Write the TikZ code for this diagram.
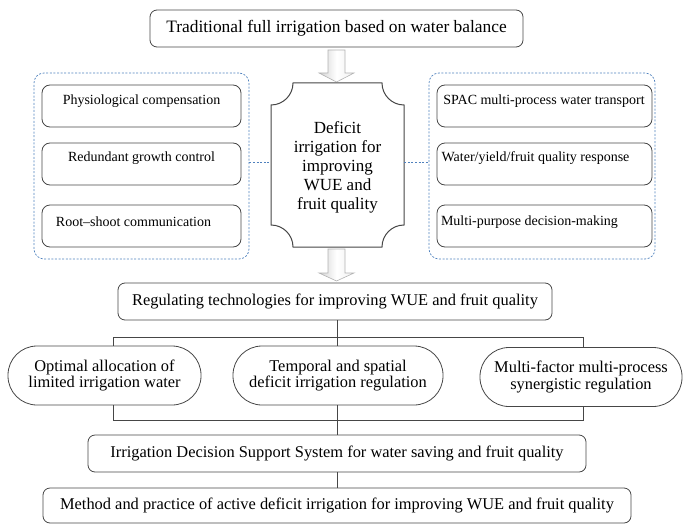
\documentclass[tikz,border=0pt]{standalone}
\usepackage{fontspec}
\setmainfont{Liberation Serif}
\definecolor{edge}{RGB}{70,70,70}
\definecolor{pblue}{RGB}{79,129,189}
\begin{document}
\begin{tikzpicture}[x=1pt,y=-1pt,
  box/.style={draw=edge, line width=0.8pt, rounded corners=7pt, inner sep=0pt,
    font=\fontsize{16.4}{17}\selectfont, align=center},
  inbox/.style={draw=edge, line width=0.8pt, rounded corners=8pt, inner sep=0pt},
  intext/.style={inner sep=0pt, font=\fontsize{14}{16}\selectfont},
  panel/.style={draw=pblue, line width=0.7pt, dash pattern=on 2pt off 1.6pt, rounded corners=10pt, inner sep=0pt},
  oval/.style={draw=edge, line width=0.8pt, rounded corners=29pt, inner sep=0pt,
    font=\fontsize{16.4}{16.8}\selectfont, align=center},
  conn/.style={draw=edge, line width=1pt},
  dconn/.style={draw=pblue, line width=0.7pt, dash pattern=on 2pt off 1.6pt},
  blockarr/.style={draw=gray!60, line width=0.6pt, left color=gray!35, right color=gray!12, middle color=white}
]
\useasboundingbox (0,0) rectangle (684,524);

% top box
\node[box, minimum width=373pt, minimum height=37pt, font=\fontsize{17.4}{18}\selectfont] (top) at (336.5,28.5) {Traditional full irrigation based on water balance};

% arrow 1
\draw[blockarr] (328,50) -- (345,50) -- (345,73) -- (354,73) -- (336.5,82) -- (319,73) -- (328,73) -- cycle;

% left panel
\node[panel, minimum width=215pt, minimum height=186pt] (lpanel) at (141.5,166) {};
\node[inbox, minimum width=199pt, minimum height=42pt] (l1) at (141.5,106) {};
\node[inbox, minimum width=199pt, minimum height=42pt] (l2) at (141.5,164) {};
\node[inbox, minimum width=199pt, minimum height=42pt] (l3) at (141.5,226) {};
\node[intext] (l1t) at (141.5,101) {Physiological compensation};
\node[intext] (l2t) at (141.5,158) {Redundant growth control};
\node[intext] (l3t) at (133.5,222) {Root–shoot communication};

% right panel
\node[panel, minimum width=226pt, minimum height=186pt] (rpanel) at (542,166) {};
\node[inbox, minimum width=215pt, minimum height=42pt] (r1) at (544.5,106) {};
\node[inbox, minimum width=215pt, minimum height=42pt] (r2) at (544.5,164) {};
\node[inbox, minimum width=215pt, minimum height=42pt] (r3) at (544.5,226) {};
\node[intext] (r1t) at (544,101) {SPAC multi-process water transport};
\node[intext] (r2t) at (535.5,158) {Water/yield/fruit quality response};
\node[intext] (r3t) at (529.5,222) {Multi-purpose decision-making};

% center plaque
\draw[draw=edge, line width=1pt, fill=white]
  (293,83) -- (382,83) .. controls (382,95.1) and (391.9,105) .. (404,105)
  -- (404,225) .. controls (391.9,225) and (382,234.9) .. (382,247)
  -- (293,247) .. controls (293,234.9) and (283.1,225) .. (271,225)
  -- (271,105) .. controls (283.1,105) and (293,95.1) .. (293,83) -- cycle;
\node[inner sep=0pt, minimum width=133pt, minimum height=164pt, align=center,
  font=\fontsize{17}{19}\selectfont] (deficit) at (337.5,167) {Deficit\\irrigation for\\improving\\WUE and\\fruit quality};

% dashed links
\draw[dconn] ([yshift=4pt]lpanel.east) -- ([yshift=4pt]lpanel.east -| deficit.west);
\draw[dconn] ([yshift=4pt]rpanel.west -| deficit.east) -- ([yshift=4pt]rpanel.west);

% arrow 2
\draw[blockarr] (328,249) -- (345,249) -- (345,273) -- (354,273) -- (336.5,281) -- (319,273) -- (328,273) -- cycle;

% regulating
\node[box, minimum width=434pt, minimum height=37pt] (reg) at (335,301.5) {Regulating technologies for improving WUE and fruit quality};

% ovals
\node[oval, minimum width=193pt, minimum height=59pt] (o1) at (104.5,375.5) {Optimal allocation of\\limited irrigation water};
\node[oval, minimum width=210pt, minimum height=59pt] (o2) at (338,375.5) {Temporal and spatial\\deficit irrigation regulation};
\node[oval, minimum width=202pt, minimum height=59pt] (o3) at (581,377) {Multi-factor multi-process\\synergistic regulation};

\coordinate (b1) at (113,337);
\coordinate (bm) at (337,337);
\coordinate (b3) at (583,337);
\coordinate (c1) at (113,420);
\coordinate (cm) at (337,420);
\coordinate (c3) at (583,420);

\draw[conn] (bm |- reg.south) -- (bm);
\draw[conn] (b1 |- o1.north) -- (b1) -- (b3) -- (b3 |- o3.north);
\draw[conn] (bm) -- (bm |- o2.north);
\draw[conn] (c1 |- o1.south) -- (c1) -- (c3) -- (c3 |- o3.south);
\draw[conn] (cm |- o2.south) -- (cm);

% IDSS and method
\node[box, minimum width=498pt, minimum height=37pt] (idss) at (337,453.5) {Irrigation Decision Support System for water saving and fruit quality};
\node[box, minimum width=588pt, minimum height=35pt] (method) at (337,505.5) {Method and practice of active deficit irrigation for improving WUE and fruit quality};

\draw[conn] (cm) -- (cm |- idss.north);
\draw[conn] (idss.south) -- (method.north);
\end{tikzpicture}
\end{document}
